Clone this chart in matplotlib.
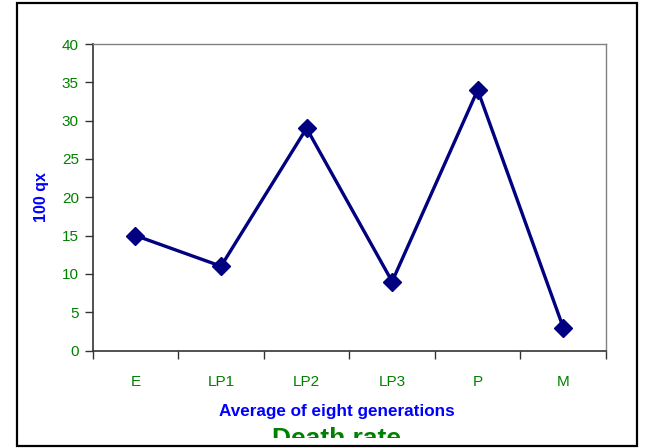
import matplotlib.pyplot as plt
from matplotlib.patches import Rectangle
from matplotlib.transforms import Bbox

plt.rcParams['font.family'] = ['Liberation Sans', 'DejaVu Sans']

stages = ['E', 'LP1', 'LP2', 'LP3', 'P', 'M']
qx = [15, 11, 29, 9, 34, 3]
yticks = [0, 5, 10, 15, 20, 25, 30, 35, 40]

green = '#008000'
blue = '#0000FF'
navy = '#000080'

fig = plt.figure(figsize=(6.45, 4.48), dpi=100)
ax = fig.add_axes([92.7 / 645, 1 - 350.5 / 448, (606 - 92.7) / 645, (350.5 - 44) / 448])

x = list(range(len(stages)))
ax.plot(x, qx, color=navy, lw=2.4, marker='D', ms=9.5, mfc=navy, mec=navy)

ax.set_xlim(-0.5, len(stages) - 0.5)
ax.set_ylim(0, 40)
ax.set_yticks(yticks)
ax.set_xticks(x)
ax.set_xticklabels(stages)
ax.set_xticks([i - 0.5 for i in range(len(stages) + 1)], minor=True)
ax.tick_params(axis='x', which='major', length=0, pad=18, labelsize=11, labelcolor=green)
ax.tick_params(axis='x', which='minor', length=6, width=1, color='#333333')
ax.tick_params(axis='y', length=6, width=1, color='#333333', labelsize=11, labelcolor=green, pad=4)

for s in ['left', 'bottom']:
    ax.spines[s].set_color('#333333')
    ax.spines[s].set_linewidth(1.2)
for s in ['top', 'right']:
    ax.spines[s].set_color('#808080')
    ax.spines[s].set_linewidth(1)

ax.set_ylabel('100 qx', color=blue, fontsize=11.5, fontweight='bold', labelpad=9)
fig.text(337 / 645, 1 - 411 / 448, 'Average of eight generations', color=blue,
         fontsize=12.3, fontweight='bold', ha='center', va='center')

# title partly hidden, as in the source
t = fig.text(336 / 645, 1 - 446 / 448, 'Death rate', color=green,
             fontsize=19, fontweight='bold', ha='center', va='baseline')
t.set_clip_box(Bbox.from_extents(0, 448 - 438, 645, 448))
t.set_clip_on(True)

fig.patches.append(Rectangle((16.7 / 645, 1 - 446 / 448), (637 - 16.7) / 645, (446 - 3.5) / 448,
                             transform=fig.transFigure, fill=False, ec='black', lw=1.6))

fig.savefig('out.png', dpi=100, facecolor='white')
